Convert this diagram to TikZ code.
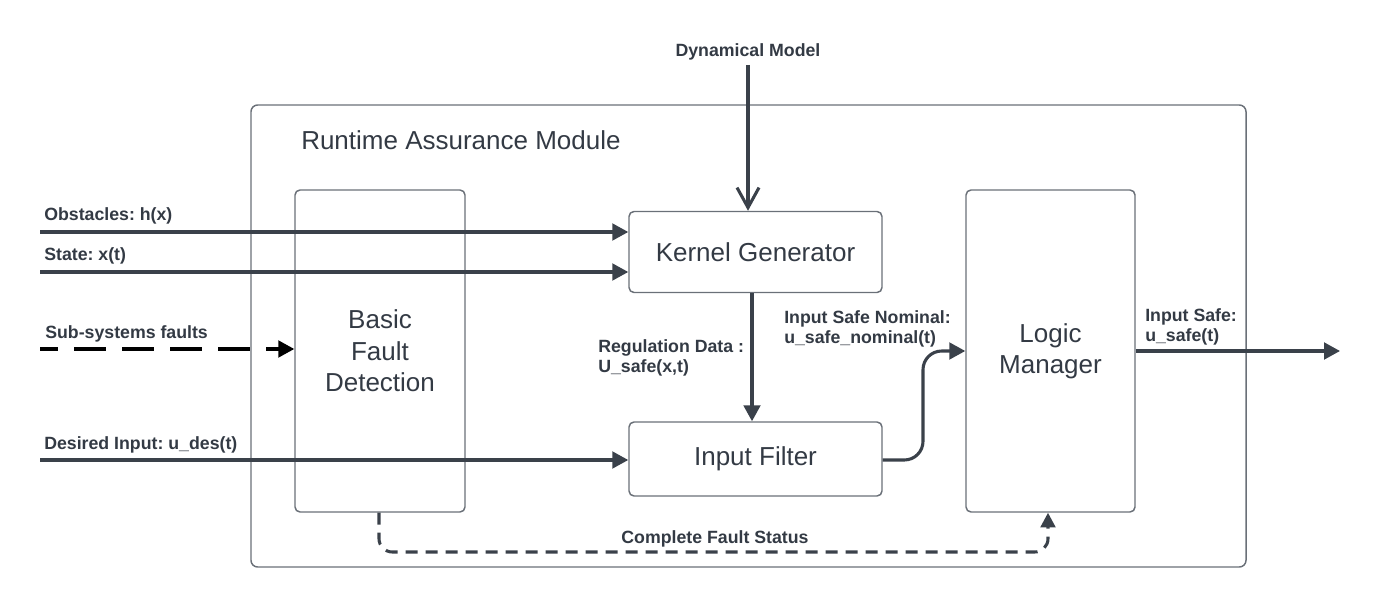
\documentclass[tikz,border=0pt]{standalone}
\usepackage{fontspec}
\setmainfont{Liberation Sans}
\usetikzlibrary{arrows.meta}
\definecolor{ink}{HTML}{3A414A}
\definecolor{txt}{HTML}{333A44}
\definecolor{frame}{HTML}{6A7078}
\frenchspacing
\begin{document}
\begin{tikzpicture}[x=0.75pt,y=-0.75pt,
  blk/.style={draw=frame, line width=1.1pt, rounded corners=3.75pt, inner sep=0pt,
    font=\fontsize{19.5}{23.5}\selectfont, text=txt, align=center},
  lbl/.style={font=\bfseries\fontsize{13.3}{15}\selectfont, text=txt, inner sep=0pt, align=left},
  flow/.style={draw=ink, line width=2.3pt, -{Triangle[length=12pt,width=12.5pt]}},
  faultflow/.style={draw=black, line width=2.3pt, dash pattern=on 24pt off 12pt, dash phase=10.5pt,
    -{Triangle[length=12pt,width=12.5pt]}},
  statusflow/.style={draw=ink, line width=2.3pt, dash pattern=on 9pt off 6pt, rounded corners=10pt,
    -{Triangle[length=11pt,width=11pt]}}
]
\useasboundingbox (0,0) rectangle (1377,609);

% outer module frame
\draw[frame, line width=1.1pt, rounded corners=5pt] (251,105) rectangle (1246,567);
\node[anchor=base west, inner sep=0pt, text=txt, font=\fontsize{19.5}{23.5}\selectfont] (ram) at (301,150) {Runtime Assurance Module};

% blocks
\node[blk, minimum width=127.5pt, minimum height=241.5pt] (bfd) at (380,351) {Basic\\Fault\\Detection};
\node[blk, minimum width=189.75pt, minimum height=60.75pt] (kg) at (755.5,252) {Kernel Generator};
\node[blk, minimum width=189.75pt, minimum height=55.5pt] (ifl) at (755.5,459) {Input Filter};
\node[blk, minimum width=126.75pt, minimum height=241.5pt] (lm) at (1050.5,351) {Logic\\Manager};

% labels
\node[lbl, anchor=base] (ldm) at (748,57) {Dynamical Model};
\node[lbl, anchor=base west] (lobs) at (44,221) {Obstacles: h(x)};
\node[lbl, anchor=base west] (lst) at (44,261) {State: x(t)};
\node[lbl, anchor=base west] (lsub) at (45,339) {Sub-systems faults};
\node[lbl, anchor=base west] (ldes) at (44,449) {Desired Input: u\_des(t)};
\node[lbl, anchor=north west] (lreg) at (598,339) {Regulation Data :\\U\_safe(x,t)};
\node[lbl, anchor=north west] (lnom) at (784,310) {Input Safe Nominal:\\u\_safe\_nominal(t)};
\node[lbl, anchor=north west] (lsafe) at (1145,308) {Input Safe:\\u\_safe(t)};
\node[lbl, anchor=base] (lcfs) at (715,543) {Complete Fault Status};

% coordinates for free ends
\coordinate (dm0) at (748,65);
\coordinate (obs0) at (40,232);
\coordinate (st0) at (40,272);
\coordinate (sub0) at (40,349);
\coordinate (des0) at (40,460);
\coordinate (regx) at (752,0);
\coordinate (nomA) at (923,460);
\coordinate (nomB) at (923,351);
\coordinate (out1) at (1340,351);
\coordinate (cfsA) at (379,552);
\coordinate (cfsB) at (1048,552);
\coordinate (cfsx) at (379,0);
\coordinate (cfsy) at (1048,0);

% connectors
\draw[draw=ink, line width=2.3pt, -{Straight Barb[length=15pt,width=16.5pt]}] (dm0) -- (dm0 |- kg.north);
\draw[flow] (obs0) -- (obs0 -| kg.west);
\draw[flow] (st0) -- (st0 -| kg.west);
\draw[faultflow] (sub0) -- (sub0 -| bfd.west);
\draw[flow] (des0) -- (des0 -| ifl.west);
\draw[flow] (kg.south -| regx) -- (ifl.north -| regx);
\draw[flow, rounded corners=14pt] (ifl.east |- nomA) -- (nomA) -- (nomB) -- (lm.west);
\draw[flow] (lm.east) -- (out1);
\draw[statusflow] (bfd.south -| cfsx) -- (cfsA) -- (cfsB) -- (lm.south -| cfsy);
\end{tikzpicture}
\end{document}
